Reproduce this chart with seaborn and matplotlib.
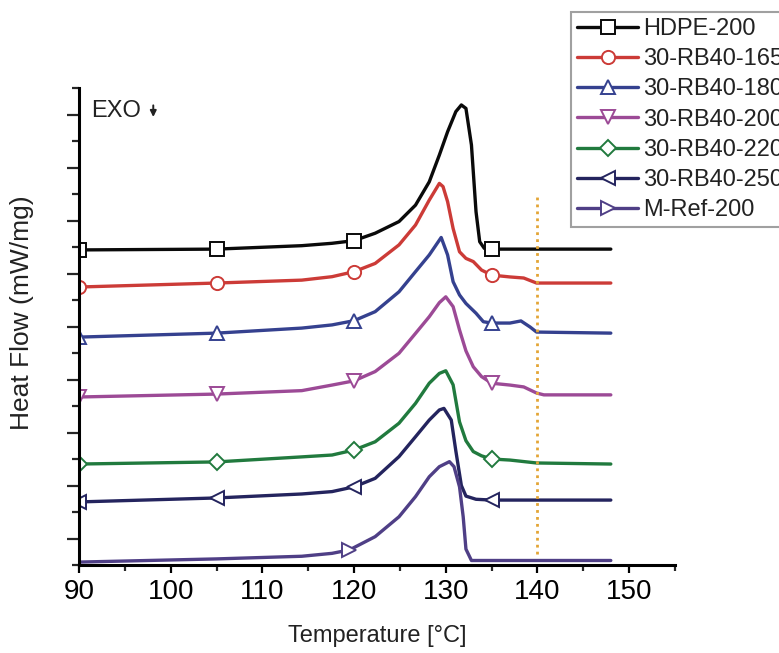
import numpy as np
import pandas as pd
import matplotlib
matplotlib.use("Agg")
import matplotlib.pyplot as plt
from matplotlib.lines import Line2D
from matplotlib.ticker import FixedLocator, MultipleLocator, NullFormatter
import seaborn as sns

# ---------------- data ----------------
series_names = ["HDPE-200", "30-RB40-165", "30-RB40-180", "30-RB40-200",
                "30-RB40-220", "30-RB40-250", "M-Ref-200"]

t_hdpe = [90, 105, 114.3, 117.6, 120, 122.3, 124.9, 126.7, 128.2, 129.3, 130.2, 131.1, 131.7, 132.2, 132.8, 133.3, 133.7, 134.2, 135, 148]
y_hdpe = [11.89, 11.92, 12.05, 12.14, 12.24, 12.52, 12.96, 13.58, 14.46, 15.47, 16.35, 17.11, 17.36, 17.23, 15.85, 13.33, 12.2, 11.95, 11.92, 11.92]

t_165 = [90, 105, 114.3, 117.6, 120, 122.3, 124.9, 126.7, 128.2, 129.3, 129.7, 130.2, 130.8, 131.5, 132.2, 133.0, 133.9, 135, 137.0, 138.5, 139.9, 140.7, 148]
y_165 = [10.49, 10.64, 10.75, 10.88, 11.07, 11.38, 12.08, 12.83, 13.77, 14.40, 14.28, 13.71, 12.70, 11.82, 11.57, 11.45, 11.13, 10.94, 10.87, 10.83, 10.64, 10.64, 10.64]

t_180 = [90, 105, 114.3, 117.6, 120, 122.3, 124.9, 126.7, 128.2, 129.5, 130.2, 130.8, 131.5, 132.2, 133.3, 134.1, 135, 137.0, 138.2, 139.2, 139.9, 148]
y_180 = [8.60, 8.75, 8.94, 9.06, 9.22, 9.56, 10.31, 11.07, 11.70, 12.36, 11.70, 10.69, 10.19, 9.87, 9.50, 9.18, 9.13, 9.13, 9.21, 8.98, 8.79, 8.75]

t_200 = [90, 105, 114.3, 117.6, 120, 122.3, 124.9, 126.7, 128.2, 129.3, 130.0, 130.8, 131.5, 132.2, 133.0, 133.9, 135, 137.0, 138.5, 139.9, 140.7, 148]
y_200 = [6.34, 6.45, 6.58, 6.79, 6.95, 7.30, 7.99, 8.74, 9.37, 9.90, 10.12, 9.75, 8.87, 8.08, 7.48, 7.11, 6.86, 6.79, 6.72, 6.49, 6.42, 6.42]

t_220 = [90, 105, 114.3, 117.6, 120, 122.3, 124.9, 126.7, 128.2, 129.3, 130.0, 130.8, 131.5, 132.2, 133.0, 133.9, 135, 137.0, 139.9, 148]
y_220 = [3.81, 3.89, 4.08, 4.15, 4.34, 4.65, 5.35, 6.10, 6.86, 7.23, 7.33, 6.80, 5.40, 4.69, 4.28, 4.12, 4.00, 3.96, 3.85, 3.81]

t_250 = [90, 105, 114.3, 117.6, 120, 122.3, 124.9, 126.7, 128.2, 129.3, 129.8, 130.6, 131.1, 131.7, 132.2, 133.3, 135, 148]
y_250 = [2.38, 2.53, 2.68, 2.77, 2.95, 3.27, 4.09, 4.84, 5.47, 5.85, 5.91, 5.47, 4.30, 3.00, 2.60, 2.48, 2.45, 2.45]

t_ref = [90, 105, 114.3, 117.6, 119.5, 122.3, 124.9, 126.7, 128.2, 129.3, 130.4, 130.9, 131.5, 131.9, 132.2, 132.8, 148]
y_ref = [0.11, 0.23, 0.33, 0.44, 0.57, 1.07, 1.82, 2.58, 3.33, 3.71, 3.90, 3.71, 2.95, 1.82, 0.60, 0.17, 0.17]

marker_t = [90, 105, 120, 135]
marker_t_ref = [119.5]

colors = ["#0a0a0a", "#cc3b37", "#35418f", "#9c4a96", "#217a3e", "#24245e", "#4f3f86"]
markers = ["s", "o", "^", "v", "D", "<", ">"]

exo_text = "EXO"
vline_x = 140
vline_span = (0.4, 13.9)

# ---------------- figure ----------------
sns.set_theme(style="white")
plt.rcParams["font.family"] = ["Liberation Sans", "DejaVu Sans"]

fig = plt.figure(figsize=(7.79, 6.53), dpi=100)
ax = fig.add_axes([79 / 779, 88 / 653, 596 / 779, 477 / 653])

all_t = [t_hdpe, t_165, t_180, t_200, t_220, t_250, t_ref]
all_y = [y_hdpe, y_165, y_180, y_200, y_220, y_250, y_ref]

handles = []
for name, tt, yy, c, m in zip(series_names, all_t, all_y, colors, markers):
    df = pd.DataFrame({"T": tt, "HF": yy})
    mt = marker_t_ref if name == "M-Ref-200" else marker_t
    idx = [tt.index(v) for v in mt if v in tt]
    ms = 9.5 if m != "D" else 8.5
    sns.lineplot(data=df, x="T", y="HF", ax=ax, color=c, lw=2.4,
                 marker=m, markevery=idx, markersize=ms,
                 markerfacecolor="white", markeredgecolor=c,
                 markeredgewidth=1.4, errorbar=None, legend=False)
    handles.append(Line2D([], [], color=c, lw=2.4, marker=m, markersize=ms,
                          markerfacecolor="white", markeredgecolor=c,
                          markeredgewidth=1.4, label=name))

ax.vlines(vline_x, vline_span[0], vline_span[1], colors="#e3a535",
          linestyles=(0, (1, 1.5)), lw=2.0)

ax.set_xlim(90, 155)
ax.set_ylim(0, 18)

ax.xaxis.set_major_locator(MultipleLocator(10))
ax.xaxis.set_minor_locator(MultipleLocator(5))
ax.yaxis.set_major_locator(FixedLocator(list(range(1, 18, 2))))
ax.yaxis.set_minor_locator(FixedLocator(list(range(0, 19, 2))))
ax.yaxis.set_major_formatter(NullFormatter())

for s in ["top", "right"]:
    ax.spines[s].set_visible(False)
for s in ["left", "bottom"]:
    ax.spines[s].set_linewidth(2.2)
    ax.spines[s].set_color("black")

ax.tick_params(axis="x", which="major", direction="out", length=6, width=1.6,
               labelsize=20, pad=4, bottom=True, colors="black")
ax.tick_params(axis="x", which="minor", direction="out", length=4, width=1.6, bottom=True)
ax.tick_params(axis="y", which="major", direction="out", length=8.5, width=1.6, left=True)
ax.tick_params(axis="y", which="minor", direction="out", length=5, width=1.6, left=True)

ax.set_xlabel("Temperature [°C]", fontsize=17, color="#222222")
ax.set_ylabel("Heat Flow (mW/mg)", fontsize=19, color="#222222")
ax.xaxis.set_label_coords(0.5, -0.125)
ax.yaxis.set_label_coords(-0.075, 0.53)

ax.text(91.3, 16.9, exo_text, fontsize=17, va="baseline", ha="left", color="#222222")
ax.annotate("", xy=(98.1, 16.8), xytext=(98.1, 17.45),
            arrowprops=dict(arrowstyle="-|>", lw=1.4, color="#222222", mutation_scale=9))

leg = ax.legend(handles=handles, loc="upper left",
                bbox_to_anchor=(571 / 779, 1 - 12 / 653), bbox_transform=fig.transFigure,
                fontsize=17, frameon=True, fancybox=False, edgecolor="#888888",
                handlelength=2.6, handletextpad=0.2, labelspacing=0.35,
                borderpad=0.25, borderaxespad=0, numpoints=1)
leg.get_frame().set_linewidth(1.5)
for txt in leg.get_texts():
    txt.set_color("#222222")

fig.savefig("out.png", dpi=100)
